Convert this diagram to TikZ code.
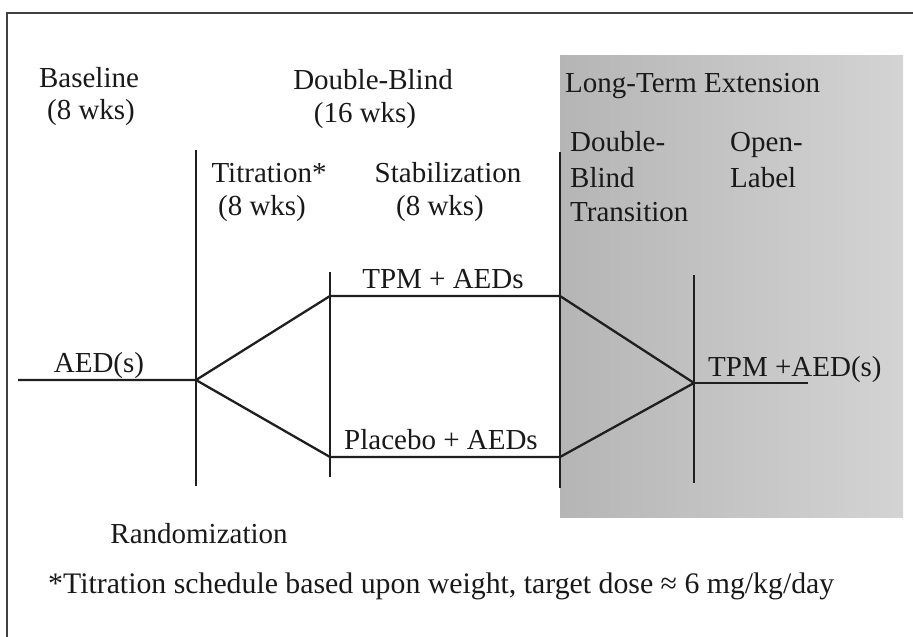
\documentclass[tikz,border=0pt]{standalone}
\usepackage{fontspec}
\setmainfont{Liberation Serif}
\begin{document}
\begin{tikzpicture}[x=1pt,y=-1pt,
  lbl/.style={inner sep=0pt,font=\fontsize{29}{33}\selectfont,text=black!90},
  rule/.style={line width=2.3pt,black!88},
  frame/.style={line width=2.4pt,black!75}]
\useasboundingbox (0,0) rectangle (913,637);

% shaded extension panel
\shade[left color=black!29,right color=black!17] (560,55) rectangle (903,517);

% outer frame (top and left edges)
\coordinate (fr1) at (7,637);
\coordinate (fr2) at (7,13);
\coordinate (fr3) at (913,13);
\draw[frame] (fr1) -- (fr2) -- (fr3);

% phase dividers
\coordinate (v1t) at (196,150); \coordinate (v1b) at (196,486);
\coordinate (v2t) at (330,272); \coordinate (v2b) at (330,477);
\coordinate (v3t) at (560,152); \coordinate (v3b) at (560,488);
\coordinate (v4t) at (694,275); \coordinate (v4b) at (694,483);
\draw[rule] (v1t) -- (v1b);
\draw[rule] (v2t) -- (v2b);
\draw[rule] (v3t) -- (v3b);
\draw[rule] (v4t) -- (v4b);

% treatment arms
\coordinate (a0) at (18,380);
\coordinate (r)  at (196,380);
\coordinate (t1) at (330,296);
\coordinate (p1) at (330,457);
\coordinate (t2) at (560,296);
\coordinate (p2) at (560,457);
\coordinate (m)  at (694,383);
\coordinate (e)  at (808,383);
\draw[rule,line join=round] (a0) -- (r) -- (t1) -- (t2) -- (m);
\draw[rule,line join=round] (r) -- (p1) -- (p2) -- (m);
\draw[rule] (m) -- (e);

% period headings
\node[lbl,anchor=base] (base1) at (89,87) {Baseline};
\node[lbl,anchor=base] (base2) at (91,119) {(8 wks)};
\node[lbl,anchor=base] (db1) at (373,89) {Double-Blind};
\node[lbl,anchor=base] (db2) at (365,122) {(16 wks)};
\node[lbl,anchor=base west] (lte) at (565,92) {Long-Term Extension};
\node[lbl,anchor=base] (tit1) at (269,182) {Titration*};
\node[lbl,anchor=base] (tit2) at (262,215) {(8 wks)};
\node[lbl,anchor=base] (stab1) at (448,182) {Stabilization};
\node[lbl,anchor=base] (stab2) at (440,215) {(8 wks)};
\node[lbl,anchor=base west] (dbt1) at (570,151) {Double-};
\node[lbl,anchor=base west] (dbt2) at (570,187) {Blind};
\node[lbl,anchor=base west] (dbt3) at (570,221) {Transition};
\node[lbl,anchor=base west] (ol1) at (730,151) {Open-};
\node[lbl,anchor=base west] (ol2) at (730,187) {Label};

% arm labels
\node[lbl,anchor=base] (aed) at (99,372) {AED(s)};
\node[lbl,anchor=base] (tpm) at (443,288) {TPM + AEDs};
\node[lbl,anchor=base] (pbo) at (441,449) {Placebo + AEDs};
\node[lbl,anchor=base west] (tpm2) at (708,376) {TPM +AED(s)};

% notes
\node[lbl,anchor=base] (rand) at (199,543) {Randomization};
\node[lbl,anchor=base west,font=\fontsize{29.8}{33}\selectfont] (note) at (48,593) {*Titration schedule based upon weight, target dose ≈ 6 mg/kg/day};
\end{tikzpicture}
\end{document}
